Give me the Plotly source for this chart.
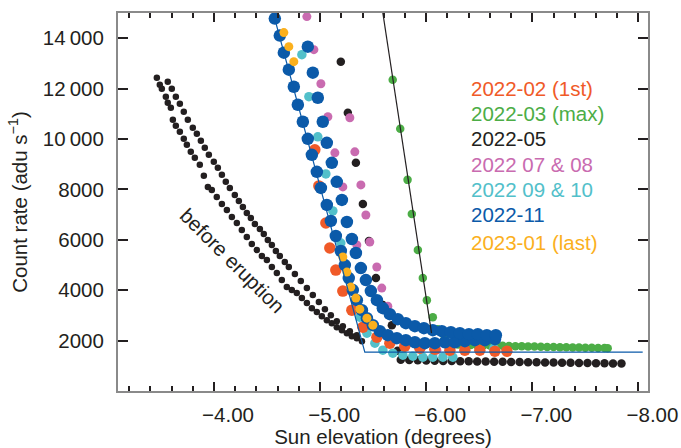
import plotly.graph_objects as go

# ---------------- data (Sun elevation in degrees, count rate in adu/s) ----------------
# "before eruption" – three interleaved tracks of small black dots
before_l_x = [-3.461, -3.508, -3.546, -3.593, -3.612, -3.678, -3.744, -3.819, -3.866, -3.942,
              -4.026, -4.121, -4.215, -4.309, -4.403, -4.498, -4.592, -4.686, -4.780, -4.875,
              -4.969, -5.063, -5.157, -5.252, -5.346]
before_l_y = [12433, 11996, 11678, 11241, 10764, 10287, 9770, 9253, 8975, 8100,
              7703, 7186, 6669, 6112, 5595, 5197, 4680, 4124, 3885, 3488,
              3130, 2811, 2533, 2294, 2096]
before_m_x = [-3.489, -3.564, -3.640, -3.715, -3.781, -3.904, -3.979, -4.074, -4.168, -4.262,
              -4.356, -4.451, -4.545, -4.639, -4.733, -4.828, -4.922, -5.016, -5.110, -5.205,
              -5.299, -5.394]
before_m_y = [12155, 11439, 10524, 10008, 9491, 8537, 7980, 7423, 6906, 6390,
              5833, 5356, 4918, 4401, 4004, 3686, 3288, 2970, 2692, 2413,
              2175, 1976]
before_r_x = [-3.564, -3.602, -3.640, -3.678, -3.715, -3.753, -3.800, -3.838, -3.876, -3.913,
              -3.951, -3.998, -4.036, -4.074, -4.111, -4.149, -4.196, -4.234, -4.272, -4.309,
              -4.347, -4.385, -4.432, -4.469, -4.507, -4.545, -4.583, -4.620, -4.667, -4.705,
              -4.762, -4.818, -4.875, -4.931, -4.988, -5.045, -5.101, -5.157, -5.214, -5.280,
              -5.346]
before_r_y = [12274, 11996, 11678, 11400, 11082, 10764, 10446, 10207, 9929, 9651,
              9372, 9094, 8856, 8577, 8299, 8060, 7782, 7544, 7305, 7067,
              6868, 6629, 6430, 6232, 5993, 5794, 5556, 5357, 5118, 4919,
              4641, 4362, 4084, 3806, 3527, 3249, 3010, 2772, 2573, 2374,
              2215]

# 2022-03 (max) – green
g_x = [-5.684, -5.755, -5.824, -5.864, -5.921, -5.968, -6.006, -6.062, -6.109, -6.175,
       -6.24, -6.30, -6.36, -6.42, -6.48, -6.54, -6.60, -6.66, -6.72, -6.78, -6.84, -6.90,
       -6.96, -7.02, -7.08, -7.14, -7.20, -7.26, -7.32, -7.38, -7.44, -7.50, -7.56, -7.62,
       -7.68, -7.71]
g_y = [12354, 10405, 8378, 7026, 5595, 4481, 3606, 2930, 2453, 2096,
       1860, 1850, 1840, 1830, 1820, 1815, 1810, 1800, 1795, 1790, 1780, 1775,
       1770, 1765, 1760, 1750, 1745, 1740, 1735, 1730, 1725, 1720, 1715, 1710,
       1705, 1700]

# 2022-05 – black
k_x = [-5.195, -5.261, -5.337, -5.403, -5.460, -5.526, -5.591, -5.676, -5.700, -5.730,
       -5.76, -5.84, -5.92, -6.00, -6.08, -6.16, -6.24, -6.32, -6.40, -6.48, -6.56, -6.64,
       -6.72, -6.80, -6.88, -6.96, -7.04, -7.12, -7.20, -7.28, -7.36, -7.44, -7.52, -7.60,
       -7.68, -7.76, -7.84]
k_y = [13069, 11041, 9054, 7423, 5952, 4481, 3408, 2612, 2050, 1600,
       1240, 1230, 1220, 1210, 1200, 1195, 1190, 1185, 1180, 1175, 1170, 1165,
       1160, 1155, 1150, 1145, 1140, 1135, 1130, 1125, 1120, 1115, 1110, 1105,
       1100, 1095, 1090]

# 2022 07 & 08 – pink
p_x = [-4.875, -4.941, -5.007, -5.073, -5.139, -5.214, -5.346,
       -5.280, -5.327, -5.384, -5.431, -5.468, -5.534, -5.581, -5.638,
       -5.80, -5.95, -6.10]
p_y = [14858, 13546, 12194, 10882, 9451, 8099, 5793,
       10842, 9491, 8179, 6986, 5912, 4919, 4084, 3368,
       2000, 1700, 1620]

# 2022 09 & 10 – teal
t_x = [-4.828, -4.894, -4.978, -5.054, -5.120, -5.195, -5.299, -5.374, -5.441, -5.516,
       -5.591, -5.685, -5.780, -5.874, -5.968, -6.062, -6.157, -6.251, -6.637]
t_y = [13347, 11678, 10087, 8616, 7145, 5873, 4004, 2930, 2294, 1897,
       1618, 1499, 1419, 1380, 1340, 1340, 1340, 1340, 1698]

# 2022-02 (1st) – orange-red
o_x = [-4.950, -4.988, -5.054, -5.091, -5.148, -5.214, -5.299, -5.403, -5.535, -5.657,
       -5.798, -5.940, -6.081, -6.223, -6.364, -6.505, -6.647, -6.760]
o_y = [9570, 8139, 6668, 5674, 4799, 3964, 3209, 2533, 2135, 1897,
       1777, 1698, 1658, 1618, 1618, 1618, 1578, 1578]

# 2022-11 – blue, two tracks
b1_x = [-4.573, -4.620, -4.658, -4.705, -4.752, -4.790, -4.837, -4.884, -4.922, -4.969,
        -5.007, -5.063, -5.101, -5.148, -5.195, -5.233, -5.270, -5.308, -5.346, -5.394,
        -5.441, -5.497, -5.563, -5.638, -5.723, -5.808, -5.893, -5.987, -6.081, -6.176,
        -6.270, -6.364, -6.458, -6.553, -6.647]
b1_y = [14779, 14103, 13427, 12751, 12075, 11359, 10683, 10008, 9372, 8696,
        8060, 7385, 6748, 6152, 5556, 4998, 4481, 4004, 3606, 3209,
        2891, 2612, 2374, 2215, 2096, 2016, 1936, 1897, 1897, 1936,
        1936, 1976, 2016, 2016, 2056]
b2_x = [-4.884, -4.931, -4.978, -5.025, -5.063, -5.110, -5.157, -5.205, -5.252, -5.299,
        -5.337, -5.384, -5.431, -5.478, -5.535, -5.591, -5.657, -5.732, -5.808, -5.893,
        -5.978, -6.062, -6.147, -6.232, -6.317, -6.402, -6.486, -6.571, -6.656]
b2_y = [13665, 12632, 11638, 10683, 9849, 9054, 8299, 7582, 6708, 6033,
        5476, 4879, 4402, 3964, 3606, 3288, 3050, 2851, 2692, 2573,
        2493, 2413, 2374, 2334, 2294, 2255, 2255, 2215, 2215]

# 2023-01 (last) – yellow-orange
y_x = [-4.658, -4.705, -4.752, -5.214, -5.252, -5.289, -5.337, -5.374, -5.441, -5.497]
y_y = [14222, 13665, 13069, 5316, 4720, 4123, 3686, 3248, 2891, 2612]

# fitted model lines
fit_k_x = [-5.591, -6.050]
fit_k_y = [15000, 2300]
fit_b_x = [-4.558, -5.421, -8.040]
fit_b_y = [15000, 1540, 1540]

x_ticks = [-4, -5, -6, -7, -8]
x_ticktext = ["\u22124.00", "\u22125.00", "\u22126.00", "\u22127.00", "\u22128.00"]
y_ticks = [2000, 4000, 6000, 8000, 10000, 12000, 14000]
y_ticktext = ["2000", "4000", "6000", "8000", "10\u2009000", "12\u2009000", "14\u2009000"]

legend_labels = ["2022-02 (1st)", "2022-03 (max)", "2022-05", "2022 07 & 08",
                 "2022 09 & 10", "2022-11", "2023-01 (last)"]

C_RED = "#f05a28"
C_GREEN = "#4cad46"
C_BLACK = "#231f20"
C_PINK = "#c96bb0"
C_TEAL = "#52c0ca"
C_BLUE = "#0b5aa9"
C_YEL = "#fbb01d"
legend_colors = [C_RED, C_GREEN, C_BLACK, C_PINK, C_TEAL, C_BLUE, C_YEL]

FONT = "Liberation Sans, Arial, sans-serif"
TXT = "#231f20"
FS = 20.5

fig = go.Figure()


def dots(x, y, color, size):
    fig.add_trace(go.Scatter(x=x, y=y, mode="markers",
                             marker=dict(color=color, size=size, line=dict(width=0)),
                             showlegend=False, hoverinfo="skip"))


dots(before_l_x, before_l_y, C_BLACK, 6.5)
dots(before_m_x, before_m_y, C_BLACK, 6.5)
dots(before_r_x, before_r_y, C_BLACK, 6.5)
dots(g_x, g_y, C_GREEN, 8.5)
dots(k_x, k_y, C_BLACK, 8.5)
dots(p_x, p_y, C_PINK, 9)
dots(t_x, t_y, C_TEAL, 9.5)
dots(o_x, o_y, C_RED, 11.5)
dots(b1_x, b1_y, C_BLUE, 12.5)
dots(b2_x, b2_y, C_BLUE, 12.5)
dots(y_x, y_y, C_YEL, 9)

fig.add_trace(go.Scatter(x=fit_k_x, y=fit_k_y, mode="lines",
                         line=dict(color=C_BLACK, width=1.2),
                         showlegend=False, hoverinfo="skip"))
fig.add_trace(go.Scatter(x=fit_b_x, y=fit_b_y, mode="lines",
                         line=dict(color=C_BLUE, width=1.2),
                         showlegend=False, hoverinfo="skip"))

# legend as coloured text
ys = [0.799, 0.733, 0.667, 0.598, 0.532, 0.466, 0.394]
for lab, col, yy in zip(legend_labels, legend_colors, ys):
    fig.add_annotation(x=0.662, y=yy, xref="paper", yref="paper", text=lab,
                       showarrow=False, xanchor="left", yanchor="middle",
                       font=dict(family=FONT, size=FS, color=col))

fig.add_annotation(x=-4.177, y=5197, text="before eruption", showarrow=False,
                   textangle=45, font=dict(family=FONT, size=FS, color=TXT))

fig.update_layout(
    width=681, height=448,
    margin=dict(l=118, r=33, t=13, b=57, autoexpand=False),
    paper_bgcolor="white", plot_bgcolor="white",
    font=dict(family=FONT, size=FS, color=TXT),
)

fig.update_xaxes(
    range=[-3.095, -8.09], showgrid=False, zeroline=False, automargin=False,
    showline=True, linecolor="#8a8a8a", linewidth=2, mirror="ticks",
    ticks="inside", ticklen=9, tickwidth=1.5, tickcolor=TXT,
    tickvals=x_ticks, ticktext=x_ticktext, ticklabelshift=-14, ticklabelstandoff=4,
    ticklabeloverflow="allow",
    minor=dict(dtick=0.2, tick0=0, ticks="inside", ticklen=5, tickwidth=1.5, tickcolor=TXT),
    title=dict(text="Sun elevation (degrees)", standoff=4,
               font=dict(family=FONT, size=FS, color=TXT)),
    tickfont=dict(family=FONT, size=FS, color=TXT),
)
fig.update_yaxes(
    range=[0, 15000], showgrid=False, zeroline=False, automargin=False,
    showline=True, linecolor="#8a8a8a", linewidth=2, mirror="ticks",
    ticks="inside", ticklen=10, tickwidth=1.5, tickcolor=TXT,
    tickvals=y_ticks, ticktext=y_ticktext, ticklabelstandoff=8,
    title=dict(text="Count rate (adu s<sup>\u22121</sup>)", standoff=10,
               font=dict(family=FONT, size=FS, color=TXT)),
    tickfont=dict(family=FONT, size=FS, color=TXT),
)

fig.write_html("out.html")
